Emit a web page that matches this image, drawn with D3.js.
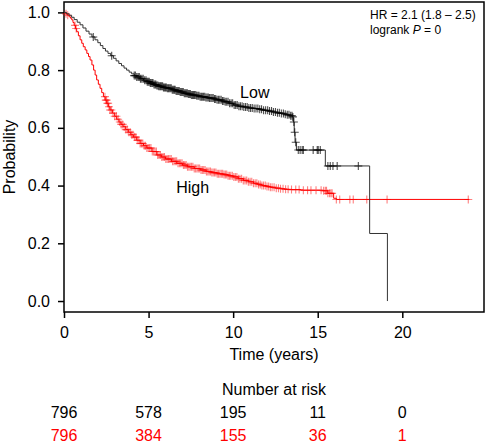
<!DOCTYPE html>
<html>
<head>
<meta charset="utf-8">
<script src="https://cdn.jsdelivr.net/npm/d3@7"></script>
<style>
  html, body { margin: 0; padding: 0; background: #fff; }
  svg { display: block; font-family: Arial, "Liberation Sans", Helvetica, sans-serif; }
</style>
</head>
<body>
<svg id="chart" width="486" height="444"></svg>
<script>
// ---- Data ----
const lowTimes = [0, 0.15, 0.3, 0.45, 0.6, 0.78, 0.95, 1.12, 1.3, 1.48, 1.65, 1.83, 2.0, 2.15, 2.3, 2.45, 2.6, 2.76, 2.92, 3.08, 3.24, 3.4, 3.55, 3.7, 3.85, 4.0, 4.15, 4.3, 4.5, 4.7, 4.9, 5.09, 5.3, 5.45, 5.6, 5.85, 6.08, 6.35, 6.6, 6.85, 7.06, 7.3, 7.5, 7.8, 8.05, 8.35, 8.6, 8.85, 9.04, 9.3, 9.5, 9.75, 10.02, 10.3, 10.6, 10.9, 11.2, 11.5, 11.75, 12.05, 12.3, 12.55, 12.8, 13.0, 13.2, 13.35, 13.5, 13.56, 13.61, 13.66, 13.74, 15.45, 18.07, 19.12];
const lowSurv  = [1.0, 0.995, 0.99, 0.983, 0.975, 0.966, 0.957, 0.946, 0.935, 0.925, 0.915, 0.905, 0.895, 0.885, 0.875, 0.866, 0.858, 0.85, 0.841, 0.832, 0.823, 0.815, 0.807, 0.8, 0.793, 0.787, 0.781, 0.776, 0.77, 0.765, 0.76, 0.755, 0.75, 0.747, 0.744, 0.74, 0.737, 0.732, 0.728, 0.724, 0.72, 0.717, 0.714, 0.711, 0.708, 0.705, 0.703, 0.7, 0.697, 0.693, 0.69, 0.685, 0.679, 0.675, 0.672, 0.669, 0.667, 0.664, 0.661, 0.658, 0.655, 0.652, 0.65, 0.647, 0.645, 0.642, 0.638, 0.62, 0.585, 0.55, 0.523, 0.468, 0.234, 0.0];
const lowCensor = [1.73, 2.82, 4.15, 4.22, 4.3, 4.38, 4.45, 4.52, 4.6, 4.68, 4.77, 4.85, 4.92, 4.98, 5.04, 5.1, 5.15, 5.21, 5.26, 5.32, 5.38, 5.43, 5.49, 5.55, 5.6, 5.66, 5.71, 5.77, 5.83, 5.88, 5.94, 6.0, 6.05, 6.11, 6.17, 6.22, 6.28, 6.34, 6.4, 6.46, 6.52, 6.57, 6.63, 6.69, 6.75, 6.81, 6.87, 6.93, 6.99, 7.05, 7.11, 7.17, 7.23, 7.29, 7.35, 7.41, 7.47, 7.53, 7.6, 7.66, 7.72, 7.79, 7.85, 7.92, 7.98, 8.05, 8.12, 8.18, 8.25, 8.32, 8.39, 8.46, 8.53, 8.6, 8.68, 8.75, 8.82, 8.9, 8.97, 9.05, 9.13, 9.21, 9.29, 9.37, 9.45, 9.53, 9.62, 9.7, 9.79, 9.88, 9.97, 10.06, 10.15, 10.24, 10.34, 10.43, 10.53, 10.63, 10.73, 10.83, 10.93, 11.03, 11.13, 11.24, 11.35, 11.46, 11.57, 11.68, 11.8, 11.92, 12.04, 12.15, 12.27, 12.38, 12.5, 12.62, 12.73, 12.85, 12.97, 13.08, 13.2, 13.3, 13.4, 13.48, 13.53, 13.59, 13.64, 13.7, 13.85, 13.96, 14.08, 14.15, 14.73, 14.97, 15.03, 15.15, 15.6, 15.74, 15.9, 16.15, 17.4];

const highTimes = [0, 0.1, 0.2, 0.3, 0.38, 0.46, 0.53, 0.6, 0.68, 0.75, 0.85, 0.95, 1.05, 1.14, 1.25, 1.35, 1.45, 1.54, 1.65, 1.75, 1.84, 1.93, 2.03, 2.13, 2.23, 2.33, 2.43, 2.53, 2.62, 2.72, 2.86, 3.0, 3.12, 3.25, 3.37, 3.49, 3.65, 3.8, 3.95, 4.1, 4.3, 4.5, 4.7, 4.9, 5.2, 5.49, 5.75, 6.0, 6.35, 6.67, 7.0, 7.3, 7.7, 8.05, 8.4, 8.7, 9.05, 9.4, 9.7, 10.0, 10.3, 10.6, 10.9, 11.2, 11.45, 11.7, 11.95, 12.2, 12.5, 12.8, 13.05, 13.3, 14.0, 15.3, 15.6, 15.94, 16.1];
const highSurv  = [1.0, 0.995, 0.99, 0.985, 0.98, 0.974, 0.965, 0.955, 0.944, 0.933, 0.919, 0.905, 0.893, 0.881, 0.87, 0.858, 0.847, 0.835, 0.818, 0.8, 0.783, 0.766, 0.751, 0.737, 0.722, 0.708, 0.696, 0.685, 0.673, 0.662, 0.651, 0.64, 0.63, 0.62, 0.612, 0.604, 0.594, 0.585, 0.576, 0.568, 0.557, 0.546, 0.538, 0.53, 0.518, 0.506, 0.499, 0.492, 0.484, 0.477, 0.471, 0.465, 0.459, 0.454, 0.449, 0.445, 0.441, 0.438, 0.434, 0.43, 0.424, 0.418, 0.413, 0.408, 0.404, 0.4, 0.397, 0.394, 0.391, 0.389, 0.387, 0.386, 0.384, 0.382, 0.373, 0.356, 0.352];
const highCensor = [0.12, 0.22, 0.65, 0.72, 2.42, 2.47, 2.52, 2.56, 2.61, 2.66, 2.72, 2.8, 2.9, 3.0, 3.1, 3.2, 3.3, 3.38, 3.47, 3.56, 3.65, 3.74, 3.83, 3.92, 4.0, 4.08, 4.17, 4.25, 4.33, 4.42, 4.5, 4.58, 4.66, 4.74, 4.82, 4.9, 4.98, 5.06, 5.14, 5.22, 5.3, 5.38, 5.46, 5.54, 5.62, 5.7, 5.78, 5.86, 5.94, 6.02, 6.1, 6.18, 6.26, 6.34, 6.42, 6.5, 6.58, 6.66, 6.74, 6.82, 6.9, 6.98, 7.06, 7.14, 7.22, 7.3, 7.38, 7.46, 7.54, 7.62, 7.7, 7.78, 7.86, 7.94, 8.02, 8.1, 8.18, 8.26, 8.34, 8.42, 8.5, 8.58, 8.66, 8.74, 8.82, 8.9, 8.98, 9.06, 9.14, 9.22, 9.3, 9.38, 9.46, 9.54, 9.62, 9.7, 9.78, 9.86, 9.95, 10.04, 10.13, 10.22, 10.31, 10.4, 10.5, 10.6, 10.7, 10.8, 10.9, 11.0, 11.1, 11.2, 11.3, 11.4, 11.5, 11.6, 11.7, 11.8, 11.9, 12.0, 12.1, 12.2, 12.3, 12.42, 12.55, 12.68, 12.8, 12.95, 13.1, 13.25, 13.45, 13.7, 13.9, 14.15, 14.4, 14.6, 14.9, 15.2, 15.35, 15.45, 15.52, 15.6, 15.7, 15.78, 15.85, 16.1, 16.3, 16.9, 17.1, 17.9, 19.1, 23.9];
const highEnd = 23.96;

const xTicks = [0, 5, 10, 15, 20];
const yTicks = [0.0, 0.2, 0.4, 0.6, 0.8, 1.0];
const riskLow  = ["796", "578", "195", "11", "0"];
const riskHigh = ["796", "384", "155", "36", "1"];

// ---- Layout ----
const svg = d3.select("#chart");
const x = d3.scaleLinear().domain([0, 24.83]).range([64, 484]);
const y = d3.scaleLinear().domain([-0.038, 1.036]).range([312, 2]);

// Axes
const yAxis = d3.axisLeft(y).tickValues(yTicks).tickFormat(d3.format(".1f")).tickSize(6).tickPadding(8);
const gy = svg.append("g").attr("transform", "translate(64,0)").call(yAxis);
const xAxis = d3.axisBottom(x).tickValues(xTicks).tickFormat(d3.format("d")).tickSize(6).tickPadding(9);
const gx = svg.append("g").attr("transform", "translate(0,312)").call(xAxis);
[gx, gy].forEach(g => {
  g.select(".domain").remove();
  g.selectAll(".tick line").attr("stroke", "#000").attr("stroke-width", 1.5);
  g.selectAll(".tick text").attr("fill", "#000").style("font-size", "16px").style("font-family", "Arial, 'Liberation Sans', sans-serif");
});

// Frame
svg.append("rect").attr("x", 64).attr("y", 2).attr("width", 420).attr("height", 310)
  .attr("fill", "none").attr("stroke", "#000").attr("stroke-width", 1.5);

// Curves
function stepPoints(times, surv, endT) {
  const pts = times.map((t, i) => [t, surv[i]]);
  if (endT !== undefined) pts.push([endT, surv[surv.length - 1]]);
  return pts;
}
const line = d3.line().x(d => x(d[0])).y(d => y(d[1])).curve(d3.curveStepAfter);

function survAt(times, surv, t) {
  const i = d3.bisectRight(times, t) - 1;
  return surv[Math.max(0, i)];
}
function plusPath(cx, cy, r) {
  return `M${cx - r},${cy}H${cx + r}M${cx},${cy - r}V${cy + r}`;
}

// High (red)
svg.append("path").datum(stepPoints(highTimes, highSurv, highEnd))
  .attr("d", line).attr("fill", "none").attr("stroke", "#ff0000").attr("stroke-width", 1);
svg.append("g").selectAll("path").data(highCensor).join("path")
  .attr("d", t => plusPath(x(t), y(survAt(highTimes, highSurv, t)), 4))
  .attr("stroke", "#ff0000").attr("stroke-opacity", 0.5).attr("stroke-width", 1.1).attr("fill", "none");

// Low (black)
svg.append("path").datum(stepPoints(lowTimes, lowSurv))
  .attr("d", line).attr("fill", "none").attr("stroke", "#333").attr("stroke-width", 1);
svg.append("g").selectAll("path").data(lowCensor).join("path")
  .attr("d", t => plusPath(x(t), y(survAt(lowTimes, lowSurv, t)), 4))
  .attr("stroke", "#000").attr("stroke-opacity", 0.7).attr("stroke-width", 1.1).attr("fill", "none");

// Labels
svg.append("text").attr("x", x(10.41)).attr("y", y(0.705)).text("Low")
  .style("font-size", "16px").attr("fill", "#000");
svg.append("text").attr("x", x(6.63)).attr("y", y(0.3726)).text("High")
  .style("font-size", "16px").attr("fill", "#000");

const hr = svg.append("text").attr("x", 370).attr("y", 19).style("font-size", "12px").attr("fill", "#000");
hr.text("HR = 2.1 (1.8 \u2013 2.5)");
const lr = svg.append("text").attr("x", 370).attr("y", 33.5).style("font-size", "12px").attr("fill", "#000");
lr.append("tspan").text("logrank ");
lr.append("tspan").style("font-style", "italic").text("P");
lr.append("tspan").text(" = 0");

// Axis titles
svg.append("text").attr("transform", "translate(15,157) rotate(-90)").attr("text-anchor", "middle")
  .style("font-size", "16px").attr("fill", "#000").text("Probability");
svg.append("text").attr("x", 274).attr("y", 360).attr("text-anchor", "middle")
  .style("font-size", "16px").attr("fill", "#000").text("Time (years)");

// Number at risk
svg.append("text").attr("x", 274).attr("y", 394.5).attr("text-anchor", "middle")
  .style("font-size", "16px").attr("fill", "#000").text("Number at risk");
svg.append("g").selectAll("text").data(riskLow).join("text")
  .attr("x", (d, i) => x(xTicks[i])).attr("y", 418.3).attr("text-anchor", "middle")
  .style("font-size", "16px").attr("fill", "#000").text(d => d);
svg.append("g").selectAll("text").data(riskHigh).join("text")
  .attr("x", (d, i) => x(xTicks[i])).attr("y", 441).attr("text-anchor", "middle")
  .style("font-size", "16px").attr("fill", "#ff0000").text(d => d);
</script>
</body>
</html>
